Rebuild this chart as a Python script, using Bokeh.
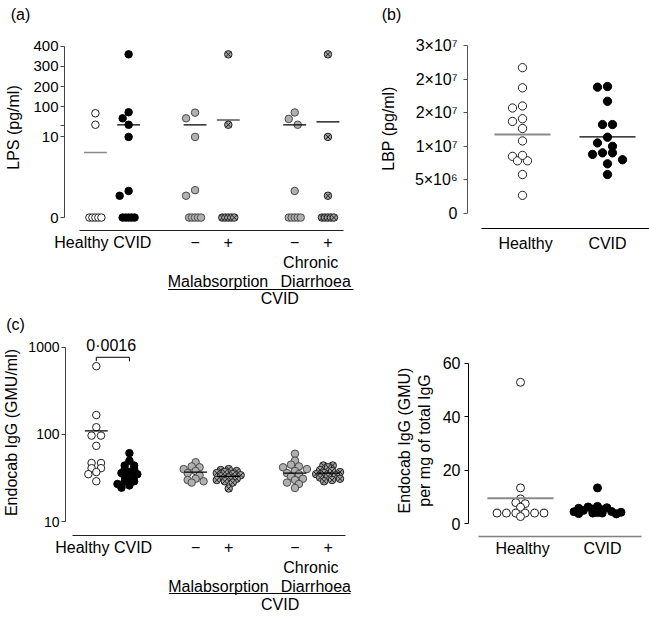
import math
from collections import Counter
from bokeh.plotting import figure
from bokeh.models import Range1d, LinearAxis, LogAxis, FixedTicker, Label
from bokeh.layouts import column, row
from bokeh.embed import file_html
from bokeh.resources import INLINE

FONT = "Liberation Sans"
TXT = "16px"

# ------------------------------------------------------------------ data
group_pos = [0, 1, 3, 4, 6, 7]          # Healthy, CVID, Malabs -, Malabs +, Diarrh -, Diarrh +
group_tick_labels = ["Healthy", "CVID", "\u2212", "+", "\u2212", "+"]

# (a) LPS (pg/ml)
lps_healthy = [68, 11, 0, 0, 0, 0, 0]
lps_cvid = [360, 73, 43, 11, 10, 3.3, 2.7, 0, 0, 0, 0, 0]
lps_malabs_neg = [71, 43, 10, 3.4, 2.7, 0, 0, 0, 0, 0]
lps_malabs_pos = [360, 11, 0, 0, 0, 0, 0]
lps_diarr_neg = [72, 40, 11, 3.3, 0, 0, 0, 0, 0]
lps_diarr_pos = [360, 10, 2.7, 0, 0, 0, 0, 0]
lps_means = [8.06, 10.1, 10.1, 34.7, 10.1, 24.8]
lps_tick_values = [0, 10, 100, 200, 300, 400]

# (b) LBP (pg/ml)
lbp_healthy = [21.7e6, 18.7e6, 16.0e6, 15.7e6, 14.1e6, 13.7e6, 12.65e6, 10.8e6,
               8.5e6, 7.84e6, 7.84e6, 8.65e6, 5.8e6, 2.7e6]
lbp_cvid = [18.8e6, 18.9e6, 16.7e6, 13.24e6, 13.24e6, 11.35e6, 10.5e6, 10.0e6,
            8.0e6, 9.03e6, 9.03e6, 8.8e6, 7.4e6, 5.8e6]
lbp_means = [11.76e6, 11.41e6]
lbp_tick_values = [0, 5e6, 10e6, 15e6, 20e6, 25e6]
lbp_tick_labels = ["0", "5\u00d710\u2076", "1\u00d710\u2077", "2\u00d710\u2077", "2\u00d710\u2077", "3\u00d710\u2077"]

# (c) Endocab IgG (GMU/ml)
endo_healthy = [607, 167, 121, 97, 97, 74, 47, 47, 41, 41, 37, 35, 29]
endo_cvid = [61, 50, 44, 44, 40, 40, 37, 36, 35, 34, 33, 33, 30, 29, 29, 27, 26, 24.5]
endo_malabs_neg = [48, 43, 42, 40, 38, 36, 34, 31, 30, 29, 28]
endo_malabs_pos = [40, 39, 38, 37, 36, 35, 34, 33, 32, 31, 30, 29, 28, 24]
endo_diarr_neg = [60, 50, 45, 43, 42, 40, 38, 36, 35, 33, 31, 30, 28, 27, 24.3]
endo_diarr_pos = [44, 44, 42, 39, 38, 37, 36, 35, 34, 33, 32, 31, 30, 29]
endo_means = [110, 36, 37, 33, 36, 36]
endo_tick_values = [10, 100, 1000]
endo_p_value = "0\u00b70016"

# (d) Endocab IgG (GMU) per mg of total IgG
norm_healthy = [52.8, 13.4, 9.3, 7.9, 7.5, 6.2, 4.0, 4.0, 4.0, 4.0, 4.0, 4.0, 2.7]
norm_cvid = [13.4, 6.5, 6.3, 6.0, 5.8, 5.5, 5.2, 5.0, 4.8, 4.8, 4.6, 4.5, 4.3,
             4.2, 4.0, 4.0, 3.8, 3.7]
norm_means = [9.55, 5.0]
norm_tick_values = [0, 20, 40, 60]

# ------------------------------------------------------------------ styles
ST_HEALTHY = dict(marker="circle", fill_color="white", line_color="#222222")
ST_CVID = dict(marker="circle", fill_color="black", line_color="black")
ST_GRAY = dict(marker="circle", fill_color="#b0b0b0", line_color="#4a4a4a")
ST_CROSS = dict(marker="circle_x", fill_color="#a0a0a0", line_color="#222222")
styles6 = [ST_HEALTHY, ST_CVID, ST_GRAY, ST_CROSS, ST_GRAY, ST_CROSS]


def swarm(values, to_px, sep_same, sep_diff, step, max_off):
    """Deterministic beeswarm: horizontal offsets in screen px."""
    n = len(values)
    ys = [to_px(v) for v in values]
    order = sorted(range(n), key=lambda i: -ys[i])
    counts = Counter(values)
    off = [0.0] * n
    placed = []
    done = set()
    for i in order:
        v, y = values[i], ys[i]
        if counts[v] > 1:
            if v in done:
                continue
            idxs = [j for j in order if values[j] == v]
            m = len(idxs)
            for k, j in enumerate(idxs):
                off[j] = (k - (m - 1) / 2) * sep_same
                placed.append((off[j], y))
            done.add(v)
        else:
            cands = [0.0]
            k = 1
            while k * step <= max_off:
                cands += [-k * step, k * step]
                k += 1
            best, bestc, bestd = None, 0.0, -1
            for c in cands:
                d = min((math.hypot(c - px, y - py) for px, py in placed), default=1e9)
                if d >= sep_diff:
                    best = c
                    break
                if d > bestd:
                    bestd, bestc = d, c
            off[i] = bestc if best is None else best
            placed.append((off[i], y))
    return off


def base_fig(w, h, xr, yr, left=0, bottom=0, log=False):
    p = figure(width=w, height=h, x_range=xr, y_range=yr,
               y_axis_type="log" if log else "linear",
               x_axis_location=None, y_axis_location=None,
               toolbar_location=None, output_backend="svg",
               min_border_left=left, min_border_right=0,
               min_border_top=0, min_border_bottom=bottom)
    p.outline_line_color = None
    p.grid.grid_line_color = None
    p.background_fill_color = "white"
    p.border_fill_color = "white"
    return p


def strip(x0, y0, w, h):
    """Text-only figure whose data units are page pixels."""
    return base_fig(w, h, Range1d(x0, x0 + w), Range1d(y0 + h, y0))


def add_yaxis(p, ticks, labels, bounds, log=False, color="black", standoff=3, size="15px"):
    cls = LogAxis if log else LinearAxis
    ax = cls(ticker=FixedTicker(ticks=ticks, minor_ticks=[]), bounds=bounds)
    ax.major_label_overrides = dict(zip(ticks, labels))
    ax.axis_line_color = color
    ax.major_tick_line_color = color
    ax.minor_tick_line_color = None
    ax.major_tick_out = 4
    ax.major_tick_in = 0
    ax.major_label_standoff = standoff
    ax.major_label_text_font = FONT
    ax.major_label_text_font_size = size
    ax.major_label_text_color = "black"
    p.add_layout(ax, "left")
    return ax


def add_xaxis(p, ticks, labels, bounds, color="#222222"):
    ax = LinearAxis(ticker=FixedTicker(ticks=ticks, minor_ticks=[]), bounds=bounds)
    ax.major_label_overrides = dict(zip(ticks, labels))
    ax.axis_line_color = color
    ax.axis_line_width = 1.2
    ax.major_tick_line_color = None
    ax.major_tick_out = 0
    ax.major_tick_in = 0
    ax.minor_tick_line_color = None
    ax.major_label_standoff = 3
    ax.major_label_text_font = FONT
    ax.major_label_text_font_size = TXT
    ax.major_label_text_color = "black"
    p.add_layout(ax, "below")
    return ax


def label(p, x, y, text, align="center", angle=0.0, size=TXT):
    p.add_layout(Label(x=x, y=y, text=text, text_align=align, text_baseline="middle",
                       angle=angle, text_font=FONT, text_font_size=size,
                       text_color="black"))


def hline(p, x0, x1, y, color="black", width=1.2):
    p.segment(x0=[x0], x1=[x1], y0=[y], y1=[y], line_color=color, line_width=width)


# ================================================================== (a)
def lps_t(v):
    # broken axis: 0-10 linear (lower part), 10-400 linear (upper part)
    return v * 8.1 if v <= 10 else 93 + (v - 10) * 0.2026


LPS_BREAK = 92.0
X6_PPU = 33.33
X6_0 = (63 - 94) / X6_PPU
x6_range_a = Range1d(X6_0, X6_0 + 305 / X6_PPU)
fx6 = lambda px: X6_0 + (px - 63) / X6_PPU

fa = base_fig(338, 253, x6_range_a, Range1d(-13, 218), left=33, bottom=22)
lps_groups = [lps_healthy, lps_cvid, lps_malabs_neg, lps_malabs_pos, lps_diarr_neg, lps_diarr_pos]
for g, vals, st in zip(group_pos, lps_groups, styles6):
    offs = swarm(vals, lps_t, 3.0, 8.5, 3.0, 12)
    fa.scatter(x=[g + o / X6_PPU for o in offs], y=[lps_t(v) for v in vals],
               size=7.5, line_width=1, **st)
for i, (g, m) in enumerate(zip(group_pos, lps_means)):
    hline(fa, g - 0.345, g + 0.345, lps_t(m), "#8a8a8a" if i == 0 else "black",
          1.6 if i == 0 else 1.2)

ticks_a = [round(lps_t(v), 4) for v in lps_tick_values]
add_yaxis(fa, ticks_a[:2] + [LPS_BREAK] + ticks_a[2:],
          ["0", "10", ""] + [str(v) for v in lps_tick_values[2:]],
          (0, ticks_a[-1]), color="#444444", standoff=2, size="15px")
xt6 = [fx6(80), fx6(131)] + group_pos[2:]
add_xaxis(fa, xt6, group_tick_labels, (fx6(78), fx6(343)))

bot_a = base_fig(338, 55, x6_range_a, Range1d(308, 253), left=33)
label(bot_a, fx6(310), 262, "Chronic")
label(bot_a, fx6(217), 281, "Malabsorption")
label(bot_a, fx6(315), 281, "Diarrhoea")
hline(bot_a, fx6(167), fx6(353), 289, "black", 1.2)
label(bot_a, fx6(279), 298, "CVID")

strip_a = strip(0, 0, 30, 308)
label(strip_a, 20, 14, "(a)")
label(strip_a, 13, 127, "LPS (pg/ml)", angle=math.pi / 2)

# ================================================================== (b)
XB_PPU = 85.0
XB0 = (467 - 522) / XB_PPU
YB_PPU = 6.72e-6
YB1 = 213 / YB_PPU
YB0 = YB1 - 308 / YB_PPU
fb = base_fig(239, 308, Range1d(XB0, XB0 + 182 / XB_PPU), Range1d(YB0, YB1), left=57)
fbx = lambda px: XB0 + (px - 467) / XB_PPU
fby = lambda py: YB1 - py / YB_PPU

for g, vals, st in zip([0, 1], [lbp_healthy, lbp_cvid], [ST_HEALTHY, ST_CVID]):
    offs = swarm(vals, lambda v: v * YB_PPU, 10.0, 9.5, 5.0, 20)
    fb.scatter(x=[g + o / XB_PPU for o in offs], y=vals, size=8.3, line_width=1, **st)
hline(fb, -0.33, 0.33, lbp_means[0], "#8a8a8a", 2.0)
hline(fb, 1 - 0.33, 1 + 0.33, lbp_means[1], "black", 1.2)
add_yaxis(fb, lbp_tick_values, lbp_tick_labels, (0, 25e6), color="#555555",
          standoff=6, size="16px")
hline(fb, fbx(481), fbx(649), fby(228), "black", 1.2)
label(fb, fbx(525), fby(243), "Healthy")
label(fb, fbx(607), fby(243), "CVID")

strip_b = strip(368, 0, 42, 308)
label(strip_b, 391, 14, "(b)")
label(strip_b, 388, 128, "LBP (pg/ml)", angle=math.pi / 2)

# ================================================================== (c)
C_DEC = 87.5                       # px per decade
LC1 = 1 + (522 - 308) / C_DEC
LC0 = 1 + (522 - 536) / C_DEC
x6_range_c = Range1d(X6_0, X6_0 + 305 / X6_PPU)
fc = base_fig(343, 250, x6_range_c, Range1d(10 ** LC0, 10 ** LC1),
              left=38, bottom=22, log=True)
fcy = lambda py: 10 ** (LC1 - (py - 308) / C_DEC)

endo_groups = [endo_healthy, endo_cvid, endo_malabs_neg, endo_malabs_pos, endo_diarr_neg, endo_diarr_pos]
for g, vals, st in zip(group_pos, endo_groups, styles6):
    offs = swarm(vals, lambda v: C_DEC * math.log10(v), 9.5, 5.0, 4.0, 12)
    fc.scatter(x=[g + o / X6_PPU for o in offs], y=vals, size=7.5, line_width=1, **st)
for g, m in zip(group_pos, endo_means):
    hline(fc, g - 0.345, g + 0.345, m, "black", 1.2)
add_yaxis(fc, endo_tick_values, [str(v) for v in endo_tick_values], (10, 1000),
          log=True, color="#444444", standoff=2, size="14px")
add_xaxis(fc, xt6, group_tick_labels, (fx6(70), fx6(345)))

# significance bracket between Healthy and CVID
yb = fcy(357)
fc.segment(x0=[0, 0, 1], x1=[1, 0, 1], y0=[yb, yb, yb], y1=[yb, fcy(361), fcy(361)],
           line_color="black", line_width=1)
label(fc, fx6(109), fcy(345), endo_p_value)

bot_c = base_fig(343, 59, x6_range_c, Range1d(617, 558), left=38)
label(bot_c, fx6(310), 567, "Chronic")
label(bot_c, fx6(217), 586, "Malabsorption")
label(bot_c, fx6(315), 586, "Diarrhoea")
hline(bot_c, fx6(167), fx6(350), 593, "black", 1.2)
label(bot_c, fx6(279), 604, "CVID")

strip_c = strip(0, 308, 25, 309)
label(strip_c, 15, 324, "(c)")
label(strip_c, 11, 432, "Endocab IgG (GMU/ml)", angle=math.pi / 2)

# ================================================================== (d)
XD_PPU = 77.0
XD0 = (468 - 520) / XD_PPU
YD_PPU = 2.68
YD1 = (523.3 - 308) / YD_PPU
YD0 = YD1 - 309 / YD_PPU
fd = base_fig(211, 309, Range1d(XD0, XD0 + 181 / XD_PPU), Range1d(YD0, YD1), left=30)
fdx = lambda px: XD0 + (px - 468) / XD_PPU
fdy = lambda py: YD1 - (py - 308) / YD_PPU

hline(fd, 1 - 0.3, 1 + 0.3, norm_means[1], "black", 1.2)
for g, vals, st in zip([0, 1], [norm_healthy, norm_cvid], [ST_HEALTHY, ST_CVID]):
    offs = swarm(vals, lambda v: v * YD_PPU, 9.4, 5.0, 4.7, 28)
    fd.scatter(x=[g + o / XD_PPU for o in offs], y=vals, size=8, line_width=1, **st)
hline(fd, -0.43, 0.43, norm_means[0], "#8a8a8a", 2.0)
add_yaxis(fd, norm_tick_values, [str(v) for v in norm_tick_values], (0, 60),
          color="black", standoff=4, size="16px")
hline(fd, fdx(478), fdx(641), fdy(536), "#808080", 1.5)
label(fd, fdx(522), fdy(548), "Healthy")
label(fd, fdx(602), fdy(548), "CVID")

strip_d = strip(368, 308, 70, 309)
label(strip_d, 404, 440, "Endocab IgG (GMU)", angle=math.pi / 2)
label(strip_d, 424, 440, "per mg of total IgG", angle=math.pi / 2)

layout = column(
    row(strip_a, column(fa, bot_a), strip_b, fb),
    row(strip_c, column(fc, bot_c), strip_d, fd),
)
open("out.html", "w").write(file_html(layout, INLINE))
